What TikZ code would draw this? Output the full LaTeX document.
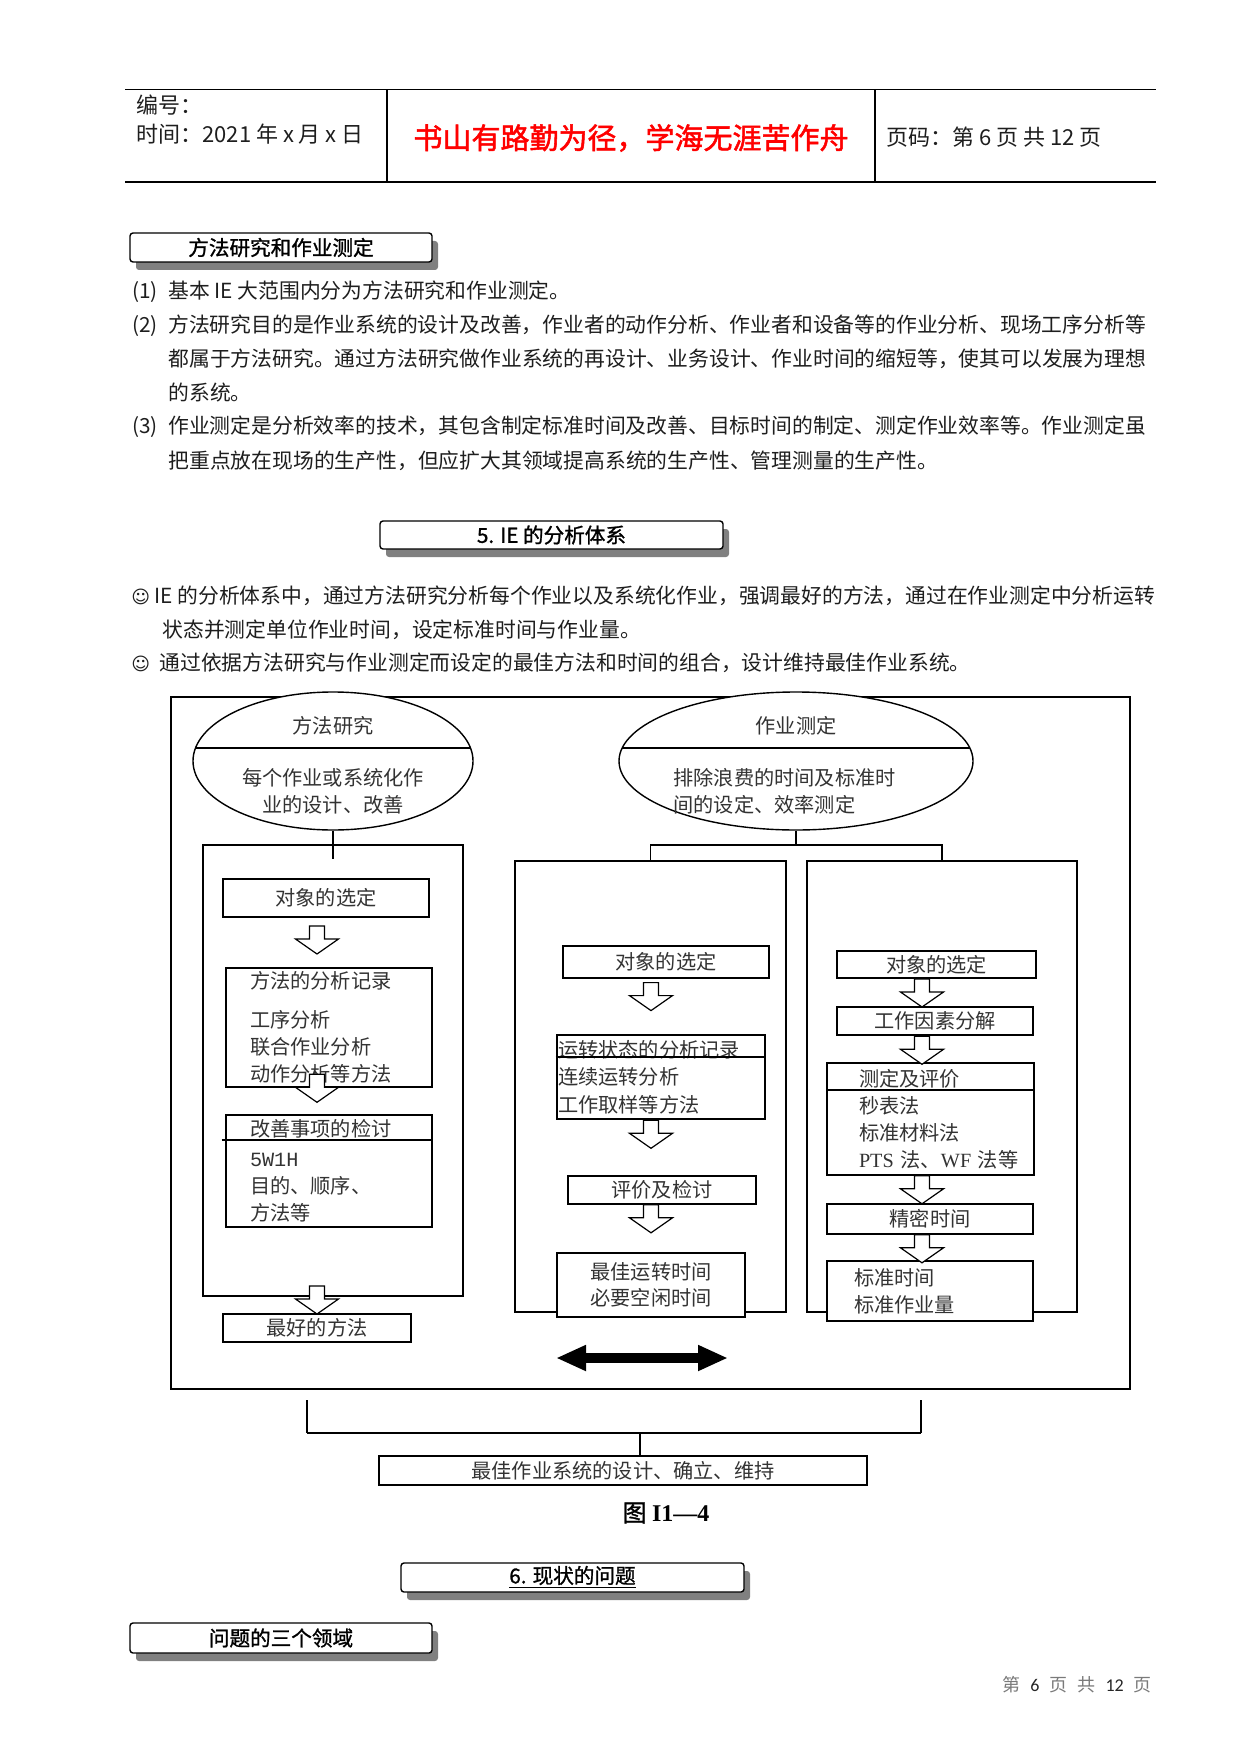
\documentclass[tikz,border=0pt]{standalone}
\usepackage{fontspec}
\setmainfont{Noto Sans CJK SC}
\newfontfamily\headfont[FakeBold=1.2]{Noto Sans CJK SC}
\newfontfamily\mottofont[FakeBold=1.8]{Noto Sans CJK SC}
\newfontfamily\smileyfont{DejaVu Sans}
\newfontfamily\latinserif{Liberation Serif}
\newfontfamily\latinmono{Liberation Mono}
\newfontfamily\footdigits{Carlito}
\usepackage{tikz}
\usetikzlibrary{arrows.meta,positioning,calc,shapes.geometric,shadows}
\definecolor{Ink}{HTML}{1E1E1E}
\definecolor{SoftInk}{HTML}{333333}
\definecolor{Motto}{HTML}{FF0000}
\definecolor{Shade}{HTML}{808080}
\definecolor{FootGray}{HTML}{7A7A7A}
\tikzset{
secbox/.style={draw=black, line width=0.7pt, rounded corners=1.5pt, fill=white, inner sep=0pt, text=black, font=\headfont\fontsize{10.3pt}{12pt}\selectfont, drop shadow={shadow xshift=3pt, shadow yshift=-4pt, fill=Shade, opacity=1}},
bodyline/.style={anchor=base west, inner sep=0pt, text=Ink, font=\fontsize{10.4pt}{16.9pt}\selectfont},
headline/.style={anchor=west, inner sep=0pt, text=Ink, font=\fontsize{11pt}{13pt}\selectfont},
dtext/.style={inner sep=0pt, text=SoftInk, font=\fontsize{10.1pt}{13.5pt}\selectfont},
stepbox/.style={draw, line width=0.7pt, fill=white, inner sep=0pt, text=SoftInk, font=\fontsize{10.1pt}{13.5pt}\selectfont},
boldbox/.style={stepbox, line width=1.3pt},
colbox/.style={draw, line width=1pt, inner sep=0pt},
thinline/.style={line width=0.6pt},
blockdn/.pic={\draw[line width=0.6pt, fill=white] (-7.5,0) -- (-7.5,13) -- (-21.5,13) -- (0,28) -- (21.5,13) -- (7.5,13) -- (7.5,0) -- cycle;}
}

\begin{document}
\begin{tikzpicture}[x=0.5pt, y=-0.5pt, >=Latex]
  \path[use as bounding box, fill=white] (0,0) rectangle (1241,1754);
  % page header
  \draw[thinline] (125,89.5) -- (1156,89.5);
  \draw[line width=0.8pt] (125,182) -- (1156,182);
  \draw[thinline] (387,89.5) -- (387,182);
  \draw[thinline] (875,89.5) -- (875,182);
  \node[headline] (idno) at (136,105) {编号：};
  \node[headline] (date) at (136,134) {时间：2021 年 x 月 x 日};
  \node[inner sep=0pt, text=Motto, font=\mottofont\fontsize{14.5pt}{16pt}\selectfont] (motto) at (631,138) {书山有路勤为径，学海无涯苦作舟};
  \node[headline] (pageno) at (886,137) {页码：第 6 页 共 12 页};

  % section 1 text
  \node[secbox, minimum width=151pt, minimum height=14.5pt] (sec1) at (281,247.5) {方法研究和作业测定};
  \node[bodyline] (p1) at (132,299) {\makebox[18pt][l]{(1)}基本 IE 大范围内分为方法研究和作业测定。};
  \node[bodyline] (p2a) at (132,333) {\makebox[18pt][l]{(2)}方法研究目的是作业系统的设计及改善，作业者的动作分析、作业者和设备等的作业分析、现场工序分析等};
  \node[bodyline] (p2b) at (168,367) {都属于方法研究。通过方法研究做作业系统的再设计、业务设计、作业时间的缩短等，使其可以发展为理想};
  \node[bodyline] (p2c) at (168,401) {的系统。};
  \node[bodyline] (p3a) at (132,434) {\makebox[18pt][l]{(3)}作业测定是分析效率的技术，其包含制定标准时间及改善、目标时间的制定、测定作业效率等。作业测定虽};
  \node[bodyline] (p3b) at (168,468) {把重点放在现场的生产性，但应扩大其领域提高系统的生产性、管理测量的生产性。};

  % section 5
  \node[secbox, minimum width=171.5pt, minimum height=14pt] (sec2) at (551.5,535) {5. IE 的分析体系};
  \node[bodyline] (b1a) at (131,603) {\makebox[11.5pt][l]{\smileyfont\fontsize{9pt}{9pt}\selectfont ☺}IE 的分析体系中，通过方法研究分析每个作业以及系统化作业，强调最好的方法，通过在作业测定中分析运转};
  \node[bodyline] (b1b) at (162,637) {状态并测定单位作业时间，设定标准时间与作业量。};
  \node[bodyline] (b2) at (131,670) {\makebox[14pt][l]{\smileyfont\fontsize{9pt}{9pt}\selectfont ☺}通过依据方法研究与作业测定而设定的最佳方法和时间的组合，设计维持最佳作业系统。};

  % diagram frame and the two ellipses
  \node[draw, line width=0.6pt, minimum width=479.5pt, minimum height=346pt, inner sep=0pt] (frame) at (650.5,1043) {};
  \node[ellipse, draw, line width=0.7pt, fill=white, minimum width=140pt, minimum height=69pt, inner sep=0pt] (method) at (333,761) {};
  \node[ellipse, draw, line width=0.7pt, fill=white, minimum width=177pt, minimum height=69pt, inner sep=0pt] (measure) at (796,761) {};
  \draw[line width=0.9pt] ($(method.center)+(-137.5,-13)$) -- ($(method.center)+(137.5,-13)$);
  \draw[line width=0.9pt] ($(measure.center)+(-173.8,-13)$) -- ($(measure.center)+(173.8,-13)$);
  \node[dtext] (methodt) at ($(method.center)+(0,-35)$) {方法研究};
  \node[dtext, align=center] (methodd) at ($(method.center)+(0,30.5)$) {每个作业或系统化作\\业的设计、改善};
  \node[dtext] (measuret) at ($(measure.center)+(0,-35)$) {作业测定};
  \node[dtext, align=left, anchor=west] (measured) at ($(measure.center)+(-123,30.5)$) {排除浪费的时间及标准时\\间的设定、效率测定};

  % three columns
  \node[colbox, minimum width=130pt, minimum height=225.5pt] (lcol) at (333,1070.5) {};
  \node[colbox, minimum width=135.5pt, minimum height=225.5pt] (mcol) at (650.5,1086.5) {};
  \node[colbox, minimum width=135pt, minimum height=225.5pt] (rcol) at (942,1086.5) {};
  \coordinate (split) at (796,845);
  \draw[thinline] (method.south) -- ($(lcol.north)+(0,15)$);
  \draw[thinline] (measure.south) -- (split);
  \draw[thinline] (mcol.north) -- (mcol.north |- split) -- (rcol.north |- split) -- (rcol.north);

  % method study column
  \node[stepbox, line width=1pt, minimum width=103pt, minimum height=19pt] (lsel) at (326,898) {对象的选定};
  \node[boldbox, minimum width=103pt, minimum height=59.5pt, text width=79pt, inner xsep=12pt, align=left] (lrec) at (329,1027.5) {方法的分析记录\\[6pt]工序分析\\联合作业分析\\动作分析等方法};
  \node[boldbox, minimum width=103pt, minimum height=56pt, text width=79pt, inner xsep=12pt, align=left] (lkai) at (329,1171) {改善事项的检讨\\[1.5pt]{\latinmono 5W1H}\\目的、顺序、\\方法等};
  \draw[line width=1pt] ($(lkai.north west)+(-3,26)$) -- ($(lkai.north east)+(0,26)$);
  \node[stepbox, line width=1pt, minimum width=94pt, minimum height=14pt] (lbest) at (317,1328) {最好的方法};

  % work measurement, middle column
  \node[stepbox, line width=0.6pt, minimum width=103pt, minimum height=16pt] (msel) at (666,962) {对象的选定};
  \node[boldbox, minimum width=104pt, minimum height=42pt, text width=103pt, inner xsep=0.5pt, align=left, font=\fontsize{10.1pt}{13.75pt}\selectfont] (mrec) at (661,1077) {运转状态的分析记录\\连续运转分析\\工作取样等方法};
  \draw[line width=1.2pt] ($(mrec.north west)+(0,23)$) -- ($(mrec.north east)+(0,23)$);
  \node[stepbox, line width=0.8pt, minimum width=94pt, minimum height=14pt] (meval) at (662,1190) {评价及检讨};
  \node[stepbox, line width=0.6pt, minimum width=94pt, minimum height=32pt, align=center, font=\fontsize{10.1pt}{13pt}\selectfont] (mbest) at (651,1285) {最佳运转时间\\必要空闲时间};
  \coordinate (dl) at (556,1358);
  \coordinate (dr) at (728,1358);
  \draw[line width=5pt, {Triangle[length=15pt,width=12pt]}-{Triangle[length=15pt,width=12pt]}] (dl) -- (dr);

  % work measurement, right column
  \node[stepbox, line width=1pt, minimum width=99.5pt, minimum height=13.5pt] (rsel) at (936.5,964.5) {对象的选定};
  \node[boldbox, minimum width=98pt, minimum height=14pt] (rfac) at (935,1021) {工作因素分解};
  \node[stepbox, line width=0.8pt, minimum width=103.5pt, minimum height=56pt, text width=71.5pt, inner xsep=16pt, align=left] (rmeas) at (930.5,1119) {测定及评价\\秒表法\\标准材料法\\{\latinserif PTS}~法、{\latinserif WF}~法等};
  \draw[line width=0.8pt] ($(rmeas.north west)+(0,28)$) -- ($(rmeas.north east)+(0,28)$);
  \node[stepbox, line width=0.8pt, minimum width=103pt, minimum height=15pt] (rprec) at (930,1219) {精密时间};
  \node[stepbox, line width=1pt, minimum width=103pt, minimum height=30pt, text width=76pt, inner xsep=13.5pt, align=left] (rstd) at (930,1291) {标准时间\\标准作业量};

  % hollow block arrows
  \pic at ($(lsel.south)+(-9,8)$) {blockdn};
  \pic at ($(lrec.south)+(-12,-14)$) {blockdn};
  \pic at ($(lcol.south)+(-16,-11)$) {blockdn};
  \pic at ($(msel.south)+(-15,4)$) {blockdn};
  \pic at ($(mrec.south)+(-10,0)$) {blockdn};
  \pic at ($(meval.south)+(-11,0)$) {blockdn};
  \pic at ($(rsel.south)+(-14.5,0)$) {blockdn};
  \pic at ($(rfac.south)+(-13,0)$) {blockdn};
  \pic at ($(rmeas.south)+(-8.5,0)$) {blockdn};
  \pic at ($(rprec.south)+(-8,0)$) {blockdn};

  % bracket below the frame
  \coordinate (bkl) at (307,1400);
  \coordinate (bkr) at (921,1400);
  \coordinate (bkm) at (640,1433);
  \draw[line width=1pt] (bkl) -- (bkl |- bkm);
  \draw[line width=1pt] (bkr) -- (bkr |- bkm);
  \draw[thinline] (bkl |- bkm) -- (bkr |- bkm);
  \node[stepbox, line width=1pt, minimum width=244pt, minimum height=14.5pt] (system) at (623,1470.5) {最佳作业系统的设计、确立、维持};
  \draw[line width=1pt] (bkm) -- (bkm |- system.north);
  \node[inner sep=0pt, font=\fontsize{12pt}{14pt}\selectfont] (caption) at (666,1513) {{\headfont 图} {\latinserif\bfseries I1—4}};

  % section 6
  \node[secbox, minimum width=171.5pt, minimum height=14.5pt] (sec3) at (572.5,1577.5) {\underline{6. 现状的问题}};
  \node[secbox, minimum width=151pt, minimum height=15pt] (sec4) at (281,1638) {问题的三个领域};

  % footer
  \node[anchor=west, inner sep=0pt, text=FootGray, font=\fontsize{9pt}{11pt}\selectfont] (foot) at (1002,1685) {第\hspace{5pt}{\footdigits\color{black!85}6}\hspace{5pt}页\hspace{5pt}共\hspace{5pt}{\footdigits\color{black!85}12}\hspace{5pt}页};
\end{tikzpicture}
\end{document}
